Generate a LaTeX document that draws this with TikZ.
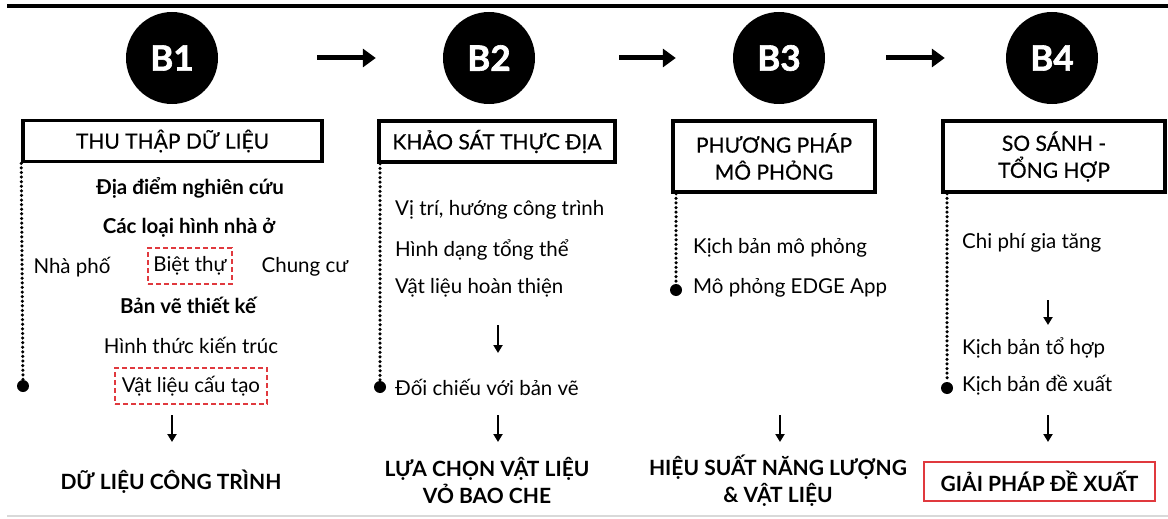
\documentclass[tikz,border=0pt]{standalone}
\usepackage{fontspec}
\setmainfont{Lato}
\newfontfamily\headfont{Lato}[FakeBold=0.5]
\newfontfamily\heavyfont{Lato}[BoldFeatures={FakeBold=1.8}]
\usepackage{tikz}
\usetikzlibrary{arrows.meta,positioning,calc}
\definecolor{markred}{HTML}{E0393E}
\tikzstyle{stepcirc} = [circle,fill=black,text=white,minimum size=92pt,inner sep=0pt,font=\fontsize{35}{35}\selectfont\heavyfont\bfseries]
\tikzstyle{headbox} = [draw=black,line width=3.5pt,align=center,inner sep=0pt,font=\fontsize{21}{27}\selectfont\headfont]
\tikzstyle{entry} = [inner sep=0pt,font=\fontsize{20.5}{22}\selectfont]
\tikzstyle{boldentry} = [inner sep=0pt,font=\fontsize{20.5}{22}\selectfont\bfseries]
\tikzstyle{result} = [inner sep=0pt,align=center,font=\fontsize{21}{27}\selectfont\bfseries]
\tikzstyle{pick} = [draw=markred,dash pattern=on 5pt off 3pt,line width=2pt,minimum height=36pt]
\tikzstyle{dot} = [circle,fill=black,inner sep=0pt,minimum size=12pt]
\tikzstyle{dotline} = [line width=3.5pt,line cap=round,dash pattern=on 0pt off 4.6pt]
\tikzstyle{steparrow} = [line width=5pt,-{Triangle[length=13pt,width=18pt]}]
\tikzstyle{downarrow} = [line width=2pt,-{Triangle[length=8pt,width=9pt]}]
\tikzset{>=latex}
\begin{document}
\begin{tikzpicture}[x=1pt,y=-1pt]
    \useasboundingbox (0,0) rectangle (1168,519);
    \draw [line width=3.5pt] (7,6) -- (1168,6);
    \draw [gray!30,line width=1.5pt] (7,516) -- (1168,516);

    \node [stepcirc] (b1) at (172,58) {B1};
    \node [stepcirc] (b2) at (489,58) {B2};
    \node [stepcirc] (b3) at (779,58) {B3};
    \node [stepcirc] (b4) at (1052,58) {B4};
    \draw [steparrow,shorten <=99pt,shorten >=67pt] (b1) -- (b2);
    \draw [steparrow,shorten <=84pt,shorten >=57pt] (b2) -- (b3);
    \draw [steparrow,shorten <=61pt,shorten >=61pt] (b3) -- (b4);

    \node [headbox,minimum width=299pt,minimum height=41pt] (h1) at (172.5,141) {THU THẬP DỮ LIỆU};
    \node [headbox,minimum width=236pt,minimum height=41pt] (h2) at (497,141.5) {KHẢO SÁT THỰC ĐỊA};
    \node [headbox,minimum width=202pt,minimum height=71pt] (h3) at (774,156.5) {PHƯƠNG PHÁP\\MÔ PHỎNG};
    \node [headbox,minimum width=222pt,minimum height=71pt] (h4) at (1054,156.5) {SO SÁNH -\\TỔNG HỢP};

    \node [boldentry] (c1a) at (190,188) {Địa điểm nghiên cứu};
    \node [boldentry] (c1b) at (189,228) {Các loại hình nhà ở};
    \node [entry] (c1c) at (72,267) {Nhà phố};
    \node [entry,pick,minimum width=84pt] (c1d) at (190,266) {Biệt thự};
    \node [entry] (c1e) at (305,267) {Chung cư};
    \node [boldentry] (c1f) at (188,305) {Bản vẽ thiết kế};
    \node [entry] (c1g) at (191,345) {Hình thức kiến trúc};
    \node [entry,pick,minimum width=152pt] (c1h) at (191,386) {Vật liệu cấu tạo};
    \node [dot] (d1) at (23,386) {};
    \draw [dotline] (h1.south west) -- (d1);
    \coordinate (a1) at (172,415);
    \draw [downarrow] (a1) -- ++(0,27);
    \node [result] (r1) at (171,482) {DỮ LIỆU CÔNG TRÌNH};

    \node [entry,anchor=west] (c2a) at (395,210) {Vị trí, hướng công trình};
    \node [entry,anchor=west] (c2b) at (395,250) {Hình dạng tổng thể};
    \node [entry,anchor=west] (c2c) at (395,288) {Vật liệu hoàn thiện};
    \node [entry,anchor=west] (c2d) at (395,387) {Đối chiếu với bản vẽ};
    \node [dot] (d2) at (380,387) {};
    \draw [dotline] (d2 |- h2.south) -- (d2);
    \coordinate (a2) at (498,325);
    \draw [downarrow] (a2) -- ++(0,28);
    \coordinate (a3) at (498,415);
    \draw [downarrow] (a3) -- ++(0,27);
    \node [result] (r2) at (487,481) {LỰA CHỌN VẬT LIỆU\\VỎ BAO CHE};

    \node [entry,anchor=west] (c3a) at (693,248) {Kịch bản mô phỏng};
    \node [entry,anchor=west] (c3b) at (693,288) {Mô phỏng EDGE App};
    \node [dot] (d3) at (676,290) {};
    \draw [dotline] (d3 |- h3.south) -- (d3);
    \coordinate (a4) at (780,415);
    \draw [downarrow] (a4) -- ++(0,27);
    \node [result] (r3) at (778,481) {HIỆU SUẤT NĂNG LƯỢNG\\\& VẬT LIỆU};

    \node [entry,anchor=west] (c4a) at (962,243) {Chi phí gia tăng};
    \node [entry,anchor=west] (c4b) at (962,348) {Kịch bản tổ hợp};
    \node [entry,anchor=west] (c4c) at (962,385) {Kịch bản đề xuất};
    \node [dot] (d4) at (947,388) {};
    \draw [dotline] (d4 |- h4.south) -- (d4);
    \coordinate (a5) at (1048,300);
    \draw [downarrow] (a5) -- ++(0,25);
    \coordinate (a6) at (1048,415);
    \draw [downarrow] (a6) -- ++(0,27);
    \node [result,draw=markred,line width=2.5pt,minimum width=231pt,minimum height=39pt] (r4) at (1039.5,481.5) {GIẢI PHÁP ĐỀ XUẤT};
  \end{tikzpicture}
\end{document}
